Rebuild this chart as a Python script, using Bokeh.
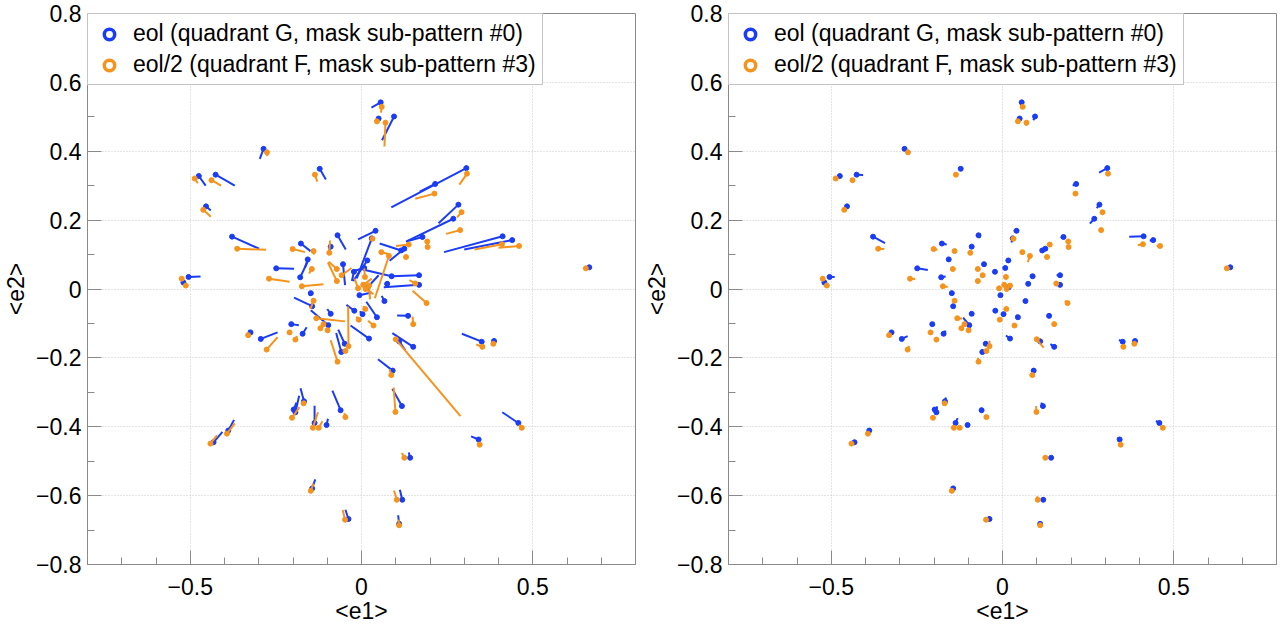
from bokeh.plotting import figure
from bokeh.models import (ColumnDataSource, FixedTicker, CustomJSTickFormatter,
                          Legend, LegendItem, Range1d)
from bokeh.layouts import row
from bokeh.embed import file_html
from bokeh.resources import INLINE

# ---------------- data ----------------
label_eol = "eol (quadrant G, mask sub-pattern #0)"
label_eol2 = "eol/2 (quadrant F, mask sub-pattern #3)"
x_title = "<e1>"
y_title = "<e2>"
x_major = [-0.5, 0.0, 0.5]
y_major = [-0.8, -0.6, -0.4, -0.2, 0.0, 0.2, 0.4, 0.6, 0.8]
minor_ticks = [-0.8, -0.7, -0.6, -0.5, -0.4, -0.3, -0.2, -0.1, 0.0,
               0.1, 0.2, 0.3, 0.4, 0.5, 0.6, 0.7, 0.8]

# eol (blue): mean ellipticity positions
eol_points = [
    (0.056, 0.542), (0.050, 0.495), (0.095, 0.501), (-0.286, 0.407), (-0.122, 0.349),
    (0.306, 0.351), (0.215, 0.305), (0.283, 0.245), (0.268, 0.204), (0.412, 0.153),
    (0.440, 0.142), (-0.378, 0.152), (-0.475, 0.328), (-0.426, 0.332), (-0.454, 0.240),
    (-0.177, 0.132), (-0.157, 0.086), (-0.249, 0.060), (-0.179, 0.034), (-0.505, 0.035),
    (-0.520, 0.019), (-0.090, 0.123), (-0.070, 0.156), (0.041, 0.169), (0.178, 0.151),
    (0.125, 0.117), (0.116, 0.112), (0.017, 0.083), (0.088, 0.037), (0.168, 0.040),
    (0.168, 0.012), (0.075, 0.015), (-0.054, 0.072), (-0.022, 0.050), (0.008, 0.061),
    (-0.148, -0.012), (-0.144, -0.050), (-0.090, -0.072), (-0.097, -0.105), (-0.205, -0.102),
    (-0.172, -0.130), (-0.324, -0.126), (-0.294, -0.145), (-0.061, -0.352), (-0.168, -0.326),
    (-0.193, -0.358), (-0.198, -0.350), (-0.137, -0.389), (-0.102, -0.395), (-0.389, -0.411),
    (-0.432, -0.445), (-0.144, -0.579), (-0.038, -0.668), (0.110, -0.682), (0.119, -0.612),
    (0.142, -0.490), (0.342, -0.437), (0.458, -0.389), (0.118, -0.340), (0.091, -0.237),
    (0.151, -0.168), (0.110, -0.152), (0.351, -0.153), (0.387, -0.151), (0.136, -0.078),
    (0.067, -0.035), (0.022, -0.144), (0.045, -0.082), (-0.059, -0.183), (-0.049, -0.159),
    (-0.021, -0.063), (0.003, -0.073), (0.665, 0.063), (0.018, 0.005), (-0.006, -0.018),
    (0.030, 0.147),
]
# whisker tips, left panel
eol_tips_left = [
    (0.029, 0.527), (0.046, 0.488), (0.060, 0.432), (-0.297, 0.378), (-0.104, 0.318),
    (0.087, 0.237), (0.170, 0.283), (0.225, 0.191), (0.133, 0.139), (0.241, 0.107),
    (0.300, 0.115), (-0.299, 0.117), (-0.455, 0.300), (-0.370, 0.300), (-0.440, 0.228),
    (-0.149, 0.110), (-0.165, 0.062), (-0.197, 0.059), (-0.154, 0.086), (-0.470, 0.036),
    (-0.515, 0.012), (-0.096, 0.106), (-0.046, 0.115), (-0.010, 0.144), (0.130, 0.138),
    (0.082, 0.082), (0.053, 0.132), (-0.024, 0.023), (0.010, 0.055), (0.088, 0.037),
    (0.065, 0.005), (0.068, 0.011), (-0.048, 0.011), (-0.028, 0.023), (-0.030, 0.050),
    (-0.152, -0.020), (-0.197, -0.025), (-0.100, -0.058), (-0.148, -0.062), (-0.183, -0.105),
    (-0.160, -0.111), (-0.330, -0.120), (-0.245, -0.126), (-0.085, -0.295), (-0.178, -0.288),
    (-0.182, -0.310), (-0.190, -0.330), (-0.137, -0.339), (-0.098, -0.377), (-0.372, -0.380),
    (-0.406, -0.415), (-0.135, -0.553), (-0.047, -0.641), (0.107, -0.657), (0.112, -0.583),
    (0.138, -0.475), (0.320, -0.428), (0.411, -0.358), (0.090, -0.290), (0.048, -0.204),
    (0.090, -0.128), (0.128, -0.178), (0.293, -0.130), (0.383, -0.145), (0.104, -0.077),
    (0.059, -0.020), (-0.032, -0.106), (0.014, -0.037), (-0.074, -0.128), (-0.068, -0.118),
    (-0.044, -0.046), (-0.005, -0.065), (0.658, 0.062), (0.050, 0.040), (0.030, -0.010),
    (-0.014, 0.031),
]
# whisker tips, right panel
eol_tips_right = [
    (0.050, 0.538), (0.049, 0.493), (0.090, 0.490), (-0.288, 0.403), (-0.119, 0.343),
    (0.282, 0.338), (0.205, 0.300), (0.275, 0.235), (0.255, 0.190), (0.370, 0.152),
    (0.430, 0.140), (-0.343, 0.133), (-0.470, 0.325), (-0.407, 0.331), (-0.452, 0.238),
    (-0.163, 0.129), (-0.156, 0.082), (-0.218, 0.055), (-0.166, 0.036), (-0.490, 0.035),
    (-0.518, 0.017), (-0.089, 0.120), (-0.066, 0.148), (0.033, 0.167), (0.170, 0.148),
    (0.118, 0.112), (0.110, 0.113), (0.012, 0.078), (0.080, 0.040), (0.158, 0.040),
    (0.155, 0.012), (0.074, 0.014), (-0.053, 0.065), (-0.022, 0.047), (0.004, 0.060),
    (-0.148, -0.013), (-0.150, -0.047), (-0.090, -0.070), (-0.115, -0.083), (-0.200, -0.102),
    (-0.166, -0.121), (-0.324, -0.126), (-0.277, -0.137), (-0.063, -0.345), (-0.165, -0.315),
    (-0.191, -0.341), (-0.197, -0.348), (-0.131, -0.375), (-0.101, -0.390), (-0.385, -0.405),
    (-0.430, -0.443), (-0.142, -0.573), (-0.040, -0.660), (0.109, -0.675), (0.118, -0.605),
    (0.141, -0.487), (0.335, -0.432), (0.448, -0.383), (0.113, -0.330), (0.087, -0.232),
    (0.140, -0.160), (0.112, -0.155), (0.340, -0.148), (0.386, -0.150), (0.130, -0.078),
    (0.066, -0.033), (0.010, -0.135), (0.040, -0.075), (-0.060, -0.175), (-0.050, -0.152),
    (-0.024, -0.060), (0.002, -0.072), (0.663, 0.063), (0.025, 0.012), (0.000, -0.016),
    (0.026, 0.135),
]

# eol/2 (orange)
eol2_points = [
    (0.059, 0.529), (0.045, 0.487), (0.070, 0.483), (-0.276, 0.397), (-0.136, 0.332),
    (0.308, 0.335), (0.213, 0.277), (0.292, 0.223), (0.288, 0.171), (0.410, 0.130),
    (0.460, 0.125), (-0.363, 0.117), (-0.487, 0.321), (-0.438, 0.316), (-0.462, 0.230),
    (-0.201, 0.116), (-0.140, 0.110), (-0.270, 0.030), (-0.174, 0.008), (-0.145, 0.058),
    (-0.525, 0.030), (-0.513, 0.010), (-0.072, 0.058), (-0.072, 0.023), (-0.058, 0.040),
    (-0.094, 0.105), (0.032, 0.146), (0.058, 0.107), (0.130, 0.093), (0.138, 0.129),
    (0.192, 0.138), (0.193, 0.122), (0.157, 0.016), (0.190, -0.041), (0.080, 0.096),
    (0.010, 0.035), (0.005, 0.012), (0.012, 0.000), (-0.010, 0.002), (0.022, 0.010),
    (-0.140, -0.034), (-0.132, -0.085), (-0.111, -0.102), (-0.120, -0.114), (-0.099, -0.120),
    (-0.210, -0.126), (-0.193, -0.147), (-0.331, -0.134), (-0.277, -0.176), (-0.070, -0.211),
    (-0.038, -0.166), (-0.047, -0.180), (-0.008, -0.089), (0.011, -0.058), (0.035, -0.106),
    (0.151, -0.102), (0.100, -0.146), (0.087, -0.250), (0.099, -0.357), (0.353, -0.168),
    (0.385, -0.159), (0.345, -0.452), (0.468, -0.403), (0.125, -0.490), (0.103, -0.612),
    (0.110, -0.686), (-0.048, -0.670), (-0.148, -0.586), (-0.441, -0.449), (-0.393, -0.420),
    (-0.203, -0.374), (-0.169, -0.332), (-0.142, -0.403), (-0.125, -0.403), (-0.047, -0.372),
    (0.655, 0.060),
]
eol2_tips_left = [
    (0.057, 0.512), (0.047, 0.479), (0.067, 0.414), (-0.275, 0.386), (-0.129, 0.312),
    (0.286, 0.303), (0.157, 0.262), (0.279, 0.208), (0.247, 0.160), (0.330, 0.115),
    (0.400, 0.120), (-0.279, 0.114), (-0.478, 0.307), (-0.410, 0.300), (-0.440, 0.210),
    (-0.165, 0.107), (-0.138, 0.100), (-0.210, 0.021), (-0.111, 0.014), (-0.153, 0.045),
    (-0.520, 0.025), (-0.510, 0.005), (-0.096, 0.079), (-0.098, 0.077), (-0.029, 0.061),
    (-0.092, 0.141), (0.030, 0.140), (0.084, 0.100), (0.128, 0.090), (0.101, 0.125),
    (0.190, 0.130), (0.190, 0.118), (0.140, 0.026), (0.149, -0.005), (0.039, -0.027),
    (0.008, 0.060), (0.030, 0.030), (0.035, -0.015), (-0.020, 0.030), (0.025, -0.030),
    (-0.149, -0.058), (-0.048, -0.094), (-0.115, -0.112), (-0.118, -0.108), (-0.097, -0.113),
    (-0.207, -0.120), (-0.188, -0.137), (-0.335, -0.128), (-0.245, -0.140), (-0.090, -0.149),
    (-0.039, -0.051), (-0.050, -0.175), (-0.015, -0.080), (0.005, -0.050), (0.019, -0.092),
    (0.149, -0.080), (0.289, -0.369), (0.082, -0.233), (0.094, -0.286), (0.335, -0.161),
    (0.382, -0.155), (0.340, -0.445), (0.460, -0.395), (0.118, -0.476), (0.095, -0.585),
    (0.108, -0.670), (-0.055, -0.642), (-0.140, -0.565), (-0.422, -0.425), (-0.370, -0.390),
    (-0.181, -0.343), (-0.165, -0.325), (-0.127, -0.358), (-0.114, -0.384), (-0.050, -0.360),
    (0.650, 0.058),
]
eol2_tips_right = [
    (0.058, 0.525), (0.045, 0.485), (0.069, 0.474), (-0.276, 0.395), (-0.134, 0.328),
    (0.304, 0.330), (0.210, 0.272), (0.290, 0.220), (0.283, 0.170), (0.395, 0.127),
    (0.450, 0.124), (-0.345, 0.116), (-0.486, 0.318), (-0.432, 0.315), (-0.458, 0.226),
    (-0.190, 0.114), (-0.140, 0.108), (-0.255, 0.029), (-0.160, 0.006), (-0.146, 0.055),
    (-0.523, 0.029), (-0.513, 0.009), (-0.075, 0.060), (-0.075, 0.030), (-0.055, 0.042),
    (-0.094, 0.110), (0.032, 0.145), (0.062, 0.106), (0.130, 0.092), (0.134, 0.128),
    (0.192, 0.136), (0.192, 0.121), (0.153, 0.018), (0.182, -0.034), (0.074, 0.078),
    (0.010, 0.040), (0.010, 0.015), (0.015, -0.003), (-0.012, 0.006), (0.022, 0.005),
    (-0.141, -0.038), (-0.118, -0.086), (-0.112, -0.104), (-0.120, -0.113), (-0.099, -0.118),
    (-0.209, -0.125), (-0.188, -0.146), (-0.332, -0.133), (-0.273, -0.165), (-0.072, -0.200),
    (-0.038, -0.150), (-0.047, -0.178), (-0.009, -0.087), (0.010, -0.055), (0.032, -0.102),
    (0.150, -0.095), (0.120, -0.170), (0.086, -0.245), (0.098, -0.340), (0.345, -0.165),
    (0.384, -0.158), (0.344, -0.450), (0.466, -0.401), (0.124, -0.485), (0.101, -0.602),
    (0.110, -0.682), (-0.049, -0.662), (-0.146, -0.580), (-0.438, -0.445), (-0.390, -0.415),
    (-0.200, -0.370), (-0.168, -0.330), (-0.140, -0.395), (-0.123, -0.400), (-0.047, -0.370),
    (0.653, 0.060),
]

# ---------------- styling ----------------
BLUE = "#1a3cf5"
ORANGE = "#f6931c"
AXIS = "#8a8a8a"
FONT = "Liberation Sans"
FS = "23px"

fmt = CustomJSTickFormatter(code="""
if (Math.abs(tick) < 1e-9) { return "0"; }
var s = (Math.round(tick * 10) / 10).toString();
return s.replace("-", "\u2212");
""")


def whisker_source(points, tips):
    return ColumnDataSource(dict(
        x0=[p[0] for p in points], y0=[p[1] for p in points],
        x1=[t[0] for t in tips], y1=[t[1] for t in tips]))


def make_panel(tips_b, tips_o, border_left, border_right):
    p = figure(frame_width=548, frame_height=551,
               x_range=Range1d(-0.8, 0.8), y_range=Range1d(-0.8, 0.8),
               output_backend="svg", toolbar_location=None,
               min_border_left=border_left, min_border_right=border_right,
               min_border_top=13, min_border_bottom=56)
    p.background_fill_color = "white"
    p.border_fill_color = "white"
    p.outline_line_color = AXIS
    p.outline_line_width = 1

    p.xaxis.ticker = FixedTicker(ticks=x_major, minor_ticks=minor_ticks)
    p.yaxis.ticker = FixedTicker(ticks=y_major, minor_ticks=minor_ticks)
    for ax in (p.xaxis[0], p.yaxis[0]):
        ax.formatter = fmt
        ax.axis_line_color = AXIS
        ax.major_tick_line_color = AXIS
        ax.minor_tick_line_color = AXIS
        ax.major_tick_in = 14
        ax.major_tick_out = 0
        ax.minor_tick_in = 7
        ax.minor_tick_out = 0
        ax.major_label_text_font = FONT
        ax.major_label_text_font_size = FS
        ax.major_label_text_color = "black"
        ax.axis_label_text_font = FONT
        ax.axis_label_text_font_size = FS
        ax.axis_label_text_font_style = "normal"
        ax.axis_label_text_color = "black"
    p.xaxis.axis_label = x_title
    p.yaxis.axis_label = y_title
    p.xaxis.major_label_standoff = 13
    p.xaxis.axis_label_standoff = 0
    p.yaxis.major_label_standoff = 6
    p.yaxis.axis_label_standoff = 4

    for g in (p.xgrid[0], p.ygrid[0]):
        g.grid_line_color = "#c8c8c8"
        g.grid_line_dash = "1 2"
        g.grid_line_width = 1
    p.xgrid.ticker = FixedTicker(ticks=x_major)
    p.ygrid.ticker = FixedTicker(ticks=y_major)

    sb = whisker_source(eol_points, tips_b)
    so = whisker_source(eol2_points, tips_o)
    p.segment("x0", "y0", "x1", "y1", source=sb, line_color=BLUE, line_width=2)
    p.scatter("x0", "y0", source=sb, size=5, color=BLUE)
    p.segment("x0", "y0", "x1", "y1", source=so, line_color=ORANGE, line_width=2)
    p.scatter("x0", "y0", source=so, size=5, color=ORANGE)

    # legend-only glyphs (NaN positions are never drawn in the plot area)
    nan = float("nan")
    rb = p.scatter(x=[nan], y=[nan], marker="circle", size=10, line_color=BLUE,
                   line_width=3.5, fill_color="white")
    ro = p.scatter(x=[nan], y=[nan], marker="circle", size=10, line_color=ORANGE,
                   line_width=3.5, fill_color="white")
    legend = Legend(items=[LegendItem(label=label_eol, renderers=[rb]),
                           LegendItem(label=label_eol2, renderers=[ro])],
                    location="top_left", margin=0, padding=6, spacing=4,
                    glyph_width=30, glyph_height=26, label_height=26,
                    label_standoff=9, label_width=400,
                    label_text_font=FONT, label_text_font_size=FS,
                    label_text_color="black",
                    border_line_color=AXIS, border_line_width=1,
                    background_fill_color="white", background_fill_alpha=1.0)
    p.add_layout(legend)
    return p


p1 = make_panel(eol_tips_left, eol2_tips_left, 80, 5)
p2 = make_panel(eol_tips_right, eol2_tips_right, 88, 1)
layout = row(p1, p2)

open("out.html", "w").write(file_html(layout, INLINE))
